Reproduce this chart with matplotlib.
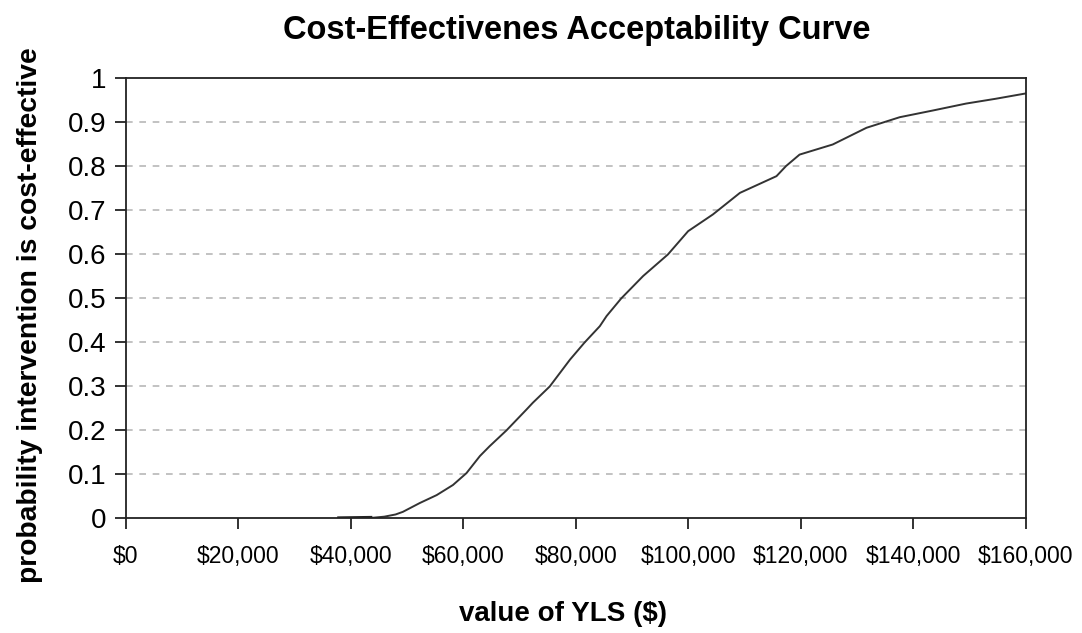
import matplotlib
matplotlib.use("Agg")
import matplotlib.pyplot as plt
from matplotlib.ticker import FuncFormatter, MultipleLocator

plt.rcParams['font.family'] = ['Liberation Sans', 'DejaVu Sans']

# value of YLS ($) and probability cost-effective
wtp = [38000, 43500, 46000, 48000, 49300, 52300, 55300, 58200, 60600, 63000,
       64700, 67700, 71300, 72400, 75400, 79000, 81600, 84300, 85500, 88100,
       92000, 96400, 100000, 104400, 109200, 115700, 117400, 119800, 125700,
       131700, 137600, 143400, 149400, 154700, 160000]
prob = [0.0, 0.001, 0.004, 0.009, 0.015, 0.035, 0.053, 0.076, 0.103, 0.142,
        0.164, 0.200, 0.248, 0.263, 0.300, 0.361, 0.400, 0.437, 0.460, 0.500,
        0.551, 0.600, 0.653, 0.691, 0.740, 0.778, 0.801, 0.827, 0.850,
        0.888, 0.912, 0.927, 0.943, 0.954, 0.966]

title = "Cost-Effectivenes Acceptability Curve"
xlabel = "value of YLS ($)"
ylabel = "probability intervention is cost-effective"

fig = plt.figure(figsize=(10.82, 6.33), dpi=100)
ax = fig.add_axes([0.116, 0.181, 0.832, 0.695])

ax.plot(wtp, prob, color="#333333", lw=1.4)
ax.plot(wtp[:2], prob[:2], color="#222222", lw=3.0)

ax.set_xlim(0, 160000)
ax.set_ylim(0, 1)
ax.xaxis.set_major_locator(MultipleLocator(20000))
ax.yaxis.set_major_locator(MultipleLocator(0.1))
ax.xaxis.set_major_formatter(FuncFormatter(lambda v, p: "${:,.0f}".format(v)))
ax.yaxis.set_major_formatter(FuncFormatter(lambda v, p: "{:g}".format(round(v, 1))))

for yv in [0.1, 0.2, 0.3, 0.4, 0.5, 0.6, 0.7, 0.8, 0.9]:
    ax.axhline(yv, color="#b8b8b8", lw=1.2, ls=(0, (4, 4)), zorder=0)

for s in ax.spines.values():
    s.set_color("#222222")
    s.set_linewidth(1.3)

ax.tick_params(axis='x', direction='out', length=8, width=1.3, labelsize=16.5, pad=11, color="#222222")
ax.tick_params(axis='y', direction='out', length=8, width=1.3, labelsize=20, pad=6, color="#222222")

fig.text(0.533, 0.952, title, ha='center', va='center', fontsize=23.5, fontweight='bold')
fig.text(0.520, 0.030, xlabel, ha='center', va='center', fontsize=20, fontweight='bold')
fig.text(0.028, 0.502, ylabel, ha='center', va='center', fontsize=20.3, fontweight='bold', rotation=90)

fig.savefig("out.png", dpi=100)
